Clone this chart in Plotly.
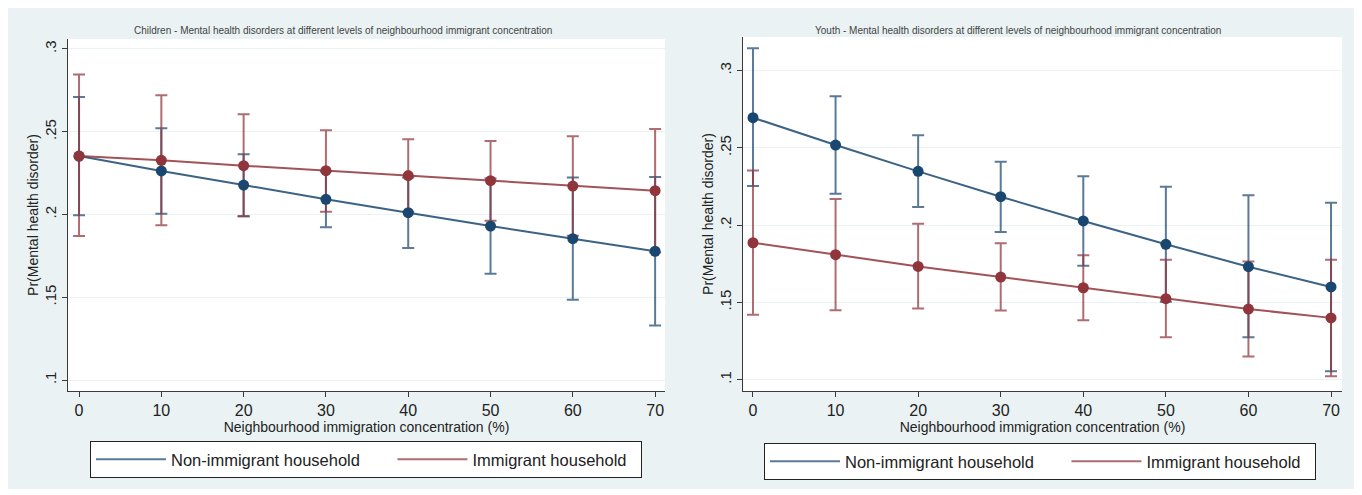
import plotly.graph_objects as go

# ---------------- data ----------------
x_levels = [0, 10, 20, 30, 40, 50, 60, 70]
x_ticktext = ["0", "10", "20", "30", "40", "50", "60", "70"]
y_tickvals = [0.10, 0.15, 0.20, 0.25, 0.30]
y_ticktext = [".1", ".15", ".2", ".25", ".3"]

series_names = ["Non-immigrant household", "Immigrant household"]

# Children panel
child_non_est = [0.2353, 0.2263, 0.2178, 0.2092, 0.2011, 0.1930, 0.1854, 0.1778]
child_non_lo = [0.1995, 0.2005, 0.1990, 0.1923, 0.1798, 0.1642, 0.1485, 0.1330]
child_non_hi = [0.2710, 0.2521, 0.2364, 0.2261, 0.2224, 0.2218, 0.2223, 0.2227]
child_imm_est = [0.2353, 0.2327, 0.2295, 0.2265, 0.2235, 0.2204, 0.2172, 0.2144]
child_imm_lo = [0.1870, 0.1935, 0.1990, 0.2017, 0.2016, 0.1963, 0.1872, 0.1771]
child_imm_hi = [0.2845, 0.2720, 0.2605, 0.2509, 0.2454, 0.2444, 0.2472, 0.2517]

# Youth panel
youth_non_est = [0.2695, 0.2518, 0.2348, 0.2184, 0.2027, 0.1876, 0.1731, 0.1600]
youth_non_lo = [0.2253, 0.2203, 0.2117, 0.1955, 0.1737, 0.1504, 0.1275, 0.1055]
youth_non_hi = [0.3144, 0.2833, 0.2581, 0.2410, 0.2316, 0.2248, 0.2193, 0.2144]
youth_imm_est = [0.1886, 0.1809, 0.1733, 0.1664, 0.1595, 0.1524, 0.1457, 0.1400]
youth_imm_lo = [0.1420, 0.1450, 0.1460, 0.1448, 0.1385, 0.1275, 0.1150, 0.1022]
youth_imm_hi = [0.2354, 0.2169, 0.2009, 0.1882, 0.1805, 0.1776, 0.1765, 0.1776]

titles = [
    "Children - Mental health disorders at different levels of neighbourhood immigrant concentration",
    "Youth - Mental health disorders at different levels of neighbourhood immigrant concentration",
]
x_title = "Neighbourhood immigration concentration (%)"
y_title = "Pr(Mental health disorder)"

# ---------------- styling ----------------
# the page body has an 8px margin, so the figure is sized to fit the window
OFF = 8
W, H = 1362 - OFF, 495 - OFF
FONT = "Liberation Sans, Arial, sans-serif"
BLUE = "#1a476f"
RED = "#90353b"
BLUE_CI = "rgba(26,71,111,0.72)"
RED_CI = "rgba(144,53,59,0.72)"
BLUE_LN = "rgba(26,71,111,0.85)"
RED_LN = "rgba(144,53,59,0.85)"
PANEL = "#eaf2f3"
GRID = "#eaf2f3"
AX = "#3a3a3a"
NB = "\u00a0"


def px_x(p):
    return (p - OFF) / W


def px_y(p):
    return 1 - (p - OFF) / H


fig = go.Figure()

panels = [
    dict(xa="x", ya="y", legend="legend",
         data=[(child_non_est, child_non_lo, child_non_hi, BLUE, BLUE_CI, BLUE_LN),
               (child_imm_est, child_imm_lo, child_imm_hi, RED, RED_CI, RED_LN)]),
    dict(xa="x2", ya="y2", legend="legend2",
         data=[(youth_non_est, youth_non_lo, youth_non_hi, BLUE, BLUE_CI, BLUE_LN),
               (youth_imm_est, youth_imm_lo, youth_imm_hi, RED, RED_CI, RED_LN)]),
]

# padding (non-breaking spaces) only widens legend entries to the reference spacing
legend_pad = [NB * 6, NB * 2]

for p in panels:
    # confidence intervals first
    for est, lo, hi, col, cicol, lncol in p["data"]:
        fig.add_trace(go.Scatter(
            x=x_levels, y=est, mode="markers",
            marker=dict(size=0.1, color="rgba(0,0,0,0)"),
            error_y=dict(type="data", symmetric=False,
                         array=[h - e for h, e in zip(hi, est)],
                         arrayminus=[e - l for e, l in zip(est, lo)],
                         color=cicol, thickness=2, width=6),
            xaxis=p["xa"], yaxis=p["ya"], showlegend=False, hoverinfo="skip"))
    # estimate lines + markers
    for est, lo, hi, col, cicol, lncol in p["data"]:
        fig.add_trace(go.Scatter(
            x=x_levels, y=est, mode="lines+markers",
            line=dict(color=lncol, width=2),
            marker=dict(size=11, color=col),
            xaxis=p["xa"], yaxis=p["ya"], showlegend=False))
    # legend entries
    for name, pad, (est, lo, hi, col, cicol, lncol) in zip(series_names, legend_pad, p["data"]):
        fig.add_trace(go.Scatter(
            x=[None], y=[None], mode="lines", name=name + pad,
            line=dict(color=cicol, width=2),
            xaxis=p["xa"], yaxis=p["ya"], legend=p["legend"]))

axis_common = dict(showline=True, linecolor=AX, linewidth=1, ticks="outside",
                   ticklen=5, tickcolor=AX, tickwidth=1, zeroline=False,
                   tickfont=dict(family=FONT, size=16, color="#222"))

xdom1 = [px_x(68), px_x(665)]
xdom2 = [px_x(743), px_x(1342)]
ydom1 = [px_y(391), px_y(39)]
ydom2 = [px_y(391), px_y(37)]

xaxis_cfg = dict(axis_common, tickvals=x_levels, ticktext=x_ticktext, showgrid=False,
                 ticklabelstandoff=0,
                 title=dict(text=x_title, font=dict(family=FONT, size=14, color="#222"), standoff=0))
yaxis_cfg = dict(axis_common, tickvals=y_tickvals, ticktext=y_ticktext, tickangle=-90,
                 showgrid=True, gridcolor=GRID, gridwidth=1,
                 title=dict(text=y_title, font=dict(family=FONT, size=14, color="#222"), standoff=0))
yaxis_cfg["tickfont"] = dict(family=FONT, size=15, color="#222")

legend_common = dict(orientation="h", xanchor="left", yanchor="top",
                     bordercolor="#222", borderwidth=1, bgcolor="white",
                     font=dict(family=FONT, size=16.5, color="#222"),
                     itemwidth=70)

title_font = dict(family=FONT, size=10, color="#444")

fig.update_layout(
    width=W, height=H,
    margin=dict(l=0, r=0, t=0, b=0, autoexpand=False),
    paper_bgcolor="white", plot_bgcolor="white",
    font=dict(family=FONT, color="#222"),
    xaxis=dict(xaxis_cfg, domain=xdom1, range=[-1.34, 71.2], anchor="y"),
    yaxis=dict(yaxis_cfg, domain=ydom1, range=[0.0934, 0.306], anchor="x"),
    xaxis2=dict(xaxis_cfg, domain=xdom2, range=[-1.21, 71.33], anchor="y2"),
    yaxis2=dict(yaxis_cfg, domain=ydom2, range=[0.0927, 0.3217], anchor="x2"),
    legend=dict(legend_common, x=px_x(90), y=px_y(441)),
    legend2=dict(legend_common, x=px_x(764), y=px_y(443)),
    annotations=[
        dict(text=titles[0], x=px_x(343), y=px_y(31), xref="paper", yref="paper",
             xanchor="center", yanchor="middle",
             showarrow=False, font=title_font),
        dict(text=titles[1], x=px_x(1018), y=px_y(31), xref="paper", yref="paper",
             xanchor="center", yanchor="middle",
             showarrow=False, font=title_font),
    ],
    shapes=[
        dict(type="rect", xref="paper", yref="paper", x0=0, x1=px_x(1358),
             y0=px_y(489), y1=1, fillcolor=PANEL, line=dict(width=0), layer="below"),
        dict(type="rect", xref="x domain", yref="y domain", x0=0, x1=1, y0=0, y1=1,
             fillcolor="white", line=dict(width=0), layer="below"),
        dict(type="rect", xref="x2 domain", yref="y2 domain", x0=0, x1=1, y0=0, y1=1,
             fillcolor="white", line=dict(width=0), layer="below"),
    ],
)

fig.write_html("out.html")
